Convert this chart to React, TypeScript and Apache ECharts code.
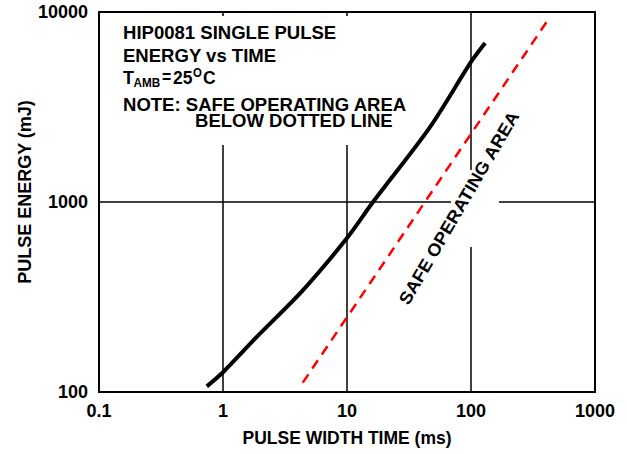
import React, { useEffect, useRef } from "react";
import * as echarts from "echarts";

const xTicks = [0.1, 1, 10, 100, 1000];
const yTicks = [100, 1000, 10000];

// HIP0081 single pulse energy curve (pulse width ms, energy mJ)
const pulseWidth = [0.74, 1, 1.87, 4.42, 10, 16.2, 46.7, 100, 130];
const pulseEnergy = [107, 127, 195, 344, 646, 1000, 2480, 5460, 6870];

// Safe operating area limit (dashed)
const soaWidth = [4.4, 434];
const soaEnergy = [112, 9420];

const FONT = "'Liberation Sans', Arial, Helvetica, sans-serif";

export default function App() {
  const ref = useRef<HTMLDivElement>(null);

  useEffect(() => {
    if (!ref.current) return;
    const chart = echarts.init(ref.current, null, { renderer: "svg" });
    const txt = (text: string, x: number, y: number, size = 17.5, sx = 1.06) => ({
      type: "text",
      x,
      y,
      z: 10,
      scaleX: sx,
      style: {
        text,
        fill: "#000",
        font: `bold ${size}px ${FONT}`,
        align: "left",
        verticalAlign: "middle",
      },
    });
    const cover = (x: number, y: number, w: number, h: number) => ({
      type: "rect",
      z: 1,
      shape: { x, y, width: w, height: h },
      style: { fill: "#fff" },
      silent: true,
    });

    chart.setOption({
      animation: false,
      backgroundColor: "#fff",
      grid: {
        left: 99,
        right: 32,
        top: 12,
        bottom: 62,
        show: true,
        borderColor: "#000",
        borderWidth: 2,
        backgroundColor: "transparent",
      },
      xAxis: {
        type: "log",
        logBase: 10,
        min: xTicks[0],
        max: xTicks[xTicks.length - 1],
        name: "PULSE WIDTH TIME (ms)",
        nameLocation: "middle",
        nameGap: 37,
        nameTextStyle: { color: "#000", fontWeight: "bold", fontSize: 17.5, fontFamily: FONT },
        axisLine: { show: false },
        axisTick: { show: false },
        axisLabel: {
          color: "#000",
          fontWeight: "bold",
          fontSize: 18,
          fontFamily: FONT,
          margin: 10,
          formatter: (v: number) => String(parseFloat(v.toPrecision(6))),
        },
        splitLine: { show: true, lineStyle: { color: "#000", width: 1.5 } },
      },
      yAxis: {
        type: "log",
        logBase: 10,
        min: yTicks[0],
        max: yTicks[yTicks.length - 1],
        axisLine: { show: false },
        axisTick: { show: false },
        axisLabel: {
          color: "#000",
          fontWeight: "bold",
          fontSize: 18,
          fontFamily: FONT,
          margin: 11,
          formatter: (v: number) => String(Math.round(v)),
        },
        splitLine: { show: true, lineStyle: { color: "#000", width: 1.5 } },
      },
      series: [
        {
          type: "line",
          data: pulseWidth.map((x, i) => [x, pulseEnergy[i]]),
          smooth: 0.3,
          showSymbol: false,
          z: 3,
          lineStyle: { color: "#000", width: 4 },
        },
        {
          type: "line",
          data: soaWidth.map((x, i) => [x, soaEnergy[i]]),
          showSymbol: false,
          z: 3,
          lineStyle: { color: "#ff0000", width: 2.5, type: [10, 7] },
        },
      ],
      graphic: [
        cover(218, 16, 10, 129),
        cover(342, 16, 10, 129),
        cover(451, 197, 48, 10),
        cover(466, 170, 10, 77),
        txt("HIP0081 SINGLE PULSE", 123, 33),
        txt("ENERGY vs TIME", 123, 56.5),
        txt("T", 123, 77.5, 18, 1),
        txt("AMB", 133.5, 83, 13, 0.9),
        txt("=", 162, 77.5, 17.5, 0.9),
        txt("25", 173, 77.5, 17.5, 1),
        txt("O", 193, 72, 12, 0.95),
        txt("C", 203, 77.5, 17.5, 1),
        txt("NOTE: SAFE OPERATING AREA", 123, 105),
        txt("BELOW DOTTED LINE", 195, 121.5),
        {
          type: "text",
          x: 25,
          y: 192,
          z: 10,
          rotation: Math.PI / 2,
          style: {
            text: "PULSE ENERGY (mJ)",
            fill: "#000",
            font: `bold 18px ${FONT}`,
            align: "center",
            verticalAlign: "middle",
          },
        },
        {
          type: "text",
          x: 459,
          y: 208,
          z: 10,
          rotation: (59.7 * Math.PI) / 180,
          scaleX: 1.06,
          style: {
            text: "SAFE OPERATING AREA",
            fill: "#000",
            font: `bold 17.5px ${FONT}`,
            align: "center",
            verticalAlign: "middle",
          },
        },
      ],
    });
    return () => chart.dispose();
  }, []);

  return (
    <div
      ref={ref}
      style={{ position: "fixed", left: 0, top: 0, width: 627, height: 454, background: "#fff" }}
    />
  );
}
